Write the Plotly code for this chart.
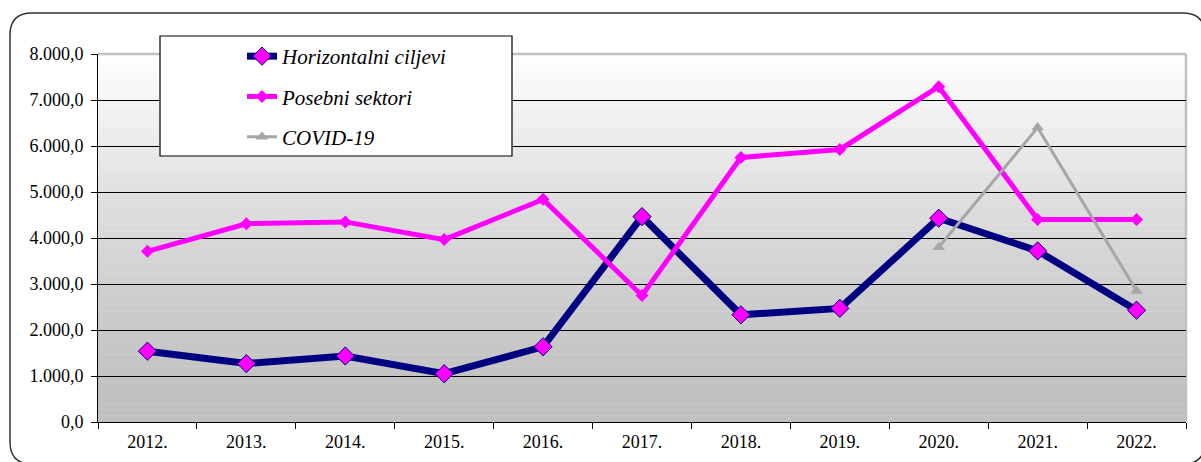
import plotly.graph_objects as go

years = ["2012.", "2013.", "2014.", "2015.", "2016.", "2017.", "2018.", "2019.", "2020.", "2021.", "2022."]
horizontalni = [1540, 1270, 1435, 1050, 1635, 4465, 2330, 2470, 4430, 3720, 2430]
posebni = [3710, 4310, 4350, 3965, 4840, 2750, 5750, 5925, 7290, 4400, 4400]
covid_years = ["2020.", "2021.", "2022."]
covid = [3800, 6400, 2850]

W, H = 1201, 462
L, R, T, B = 98, 15, 54, 40
PW, PH = W - L - R, H - T - B

def px_x(p):
    return (p - L) / PW

def px_y(p):
    return (H - B - p) / PH

FONT = "Times New Roman, Liberation Serif, serif"

fig = go.Figure()
fig.add_trace(go.Scatter(
    x=years, y=horizontalni, name="Horizontalni ciljevi", mode="lines+markers",
    line=dict(color="#000080", width=7),
    marker=dict(symbol="diamond", size=14, color="#ff00ff", line=dict(color="#000080", width=1)),
    legendgroup="a"))
fig.add_trace(go.Scatter(
    x=years, y=posebni, name="Posebni sektori", mode="lines+markers",
    line=dict(color="#ff00ff", width=5),
    marker=dict(symbol="diamond", size=10, color="#ff00ff"),
    legendgroup="b"))
fig.add_trace(go.Scatter(
    x=covid_years, y=covid, name="COVID-19", mode="lines+markers",
    line=dict(color="#a6a6a6", width=3),
    marker=dict(symbol="triangle-up", size=11, color="#a6a6a6"),
    legendgroup="c"))

shapes = []
# gradient background of plot area
N = 60
for i in range(N):
    t = (i + 0.5) / N
    v = int(round(192 + 63 * t ** 1.4))
    shapes.append(dict(type="rect", xref="paper", yref="paper", x0=0, x1=1,
                       y0=i / N, y1=(i + 1) / N + 0.001, layer="below",
                       line=dict(width=0), fillcolor=f"rgb({v},{v},{v})"))
# gray top and right border of plot area
shapes.append(dict(type="line", xref="paper", yref="paper", x0=0, x1=1, y0=1, y1=1,
                   layer="between", line=dict(color="#c0c0c0", width=2.5)))
shapes.append(dict(type="line", xref="paper", yref="paper", x0=1, x1=1, y0=0, y1=1,
                   layer="between", line=dict(color="#c0c0c0", width=2.5)))
# legend box
shapes.append(dict(type="rect", xref="paper", yref="paper",
                   x0=px_x(160), x1=px_x(512), y0=px_y(156), y1=px_y(36),
                   layer="above", fillcolor="white", line=dict(color="black", width=1.2)))
# outer rounded border
x0, x1, y0, y1, r = px_x(10), px_x(1205), px_y(464), px_y(13), 22
rx, ry = r / PW, r / PH
path = (f"M {x0+rx},{y1} L {x1-rx},{y1} Q {x1},{y1} {x1},{y1-ry} "
        f"L {x1},{y0+ry} Q {x1},{y0} {x1-rx},{y0} L {x0+rx},{y0} "
        f"Q {x0},{y0} {x0},{y0+ry} L {x0},{y1-ry} Q {x0},{y1} {x0+rx},{y1} Z")
shapes.append(dict(type="path", xref="paper", yref="paper", path=path,
                   layer="below", line=dict(color="#333333", width=1.5)))

fig.update_layout(
    width=W, height=H,
    margin=dict(l=L, r=R, t=T, b=B),
    paper_bgcolor="white", plot_bgcolor="rgba(0,0,0,0)",
    separators=",.",
    font=dict(family=FONT, color="black", size=18),
    shapes=shapes,
    showlegend=True,
    legend=dict(x=px_x(242), y=px_y(36), xanchor="left", yanchor="top",
                bgcolor="rgba(0,0,0,0)", borderwidth=0,
                font=dict(family=FONT, size=21, style="italic"),
                tracegroupgap=10, traceorder="grouped"),
)
fig.update_xaxes(type="category", showgrid=False, showline=True, linecolor="black", linewidth=1,
                 ticks="outside", tickson="boundaries", ticklen=6, tickcolor="black",
                 ticklabelstandoff=3, automargin=False,
                 tickfont=dict(family=FONT, size=18), range=[-0.5, 10.5])
fig.update_yaxes(range=[0, 8000], dtick=1000, tickformat=",.1f", showgrid=True,
                 gridcolor="black", gridwidth=1, zeroline=False,
                 showline=True, linecolor="black", linewidth=1,
                 ticks="outside", ticklen=6, tickcolor="black",
                 ticklabelstandoff=4, automargin=False,
                 tickfont=dict(family=FONT, size=18))

fig.write_html("out.html", config={"displayModeBar": False},
               post_script="document.body.style.margin='0';")
